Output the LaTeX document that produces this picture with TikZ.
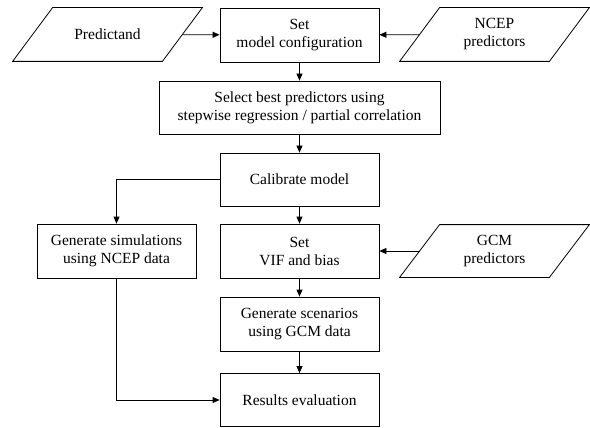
\documentclass[tikz,border=0pt]{standalone}
\usepackage{fontspec}
\setmainfont{Liberation Serif}
\usetikzlibrary{arrows.meta}
\begin{document}
\begin{tikzpicture}
          [x=1pt,y=-1pt,line width=.8pt,>={Triangle[length=7pt,width=6pt]},
           every node/.style={inner sep = 0pt, align = center, font=\fontsize{15.5}{18}\selectfont},
           box/.style={draw, rectangle, minimum width = 159pt, minimum height = 54pt},
           iobox/.style={rectangle, minimum width = 149pt, minimum height = 53pt}]
        \useasboundingbox (0,0) rectangle (590,428);
        \node[iobox] (pred) at (107.5,34.5) {Predictand};
        \node[box] (set) at (299.5,35) {Set \\ model configuration};
        \node[iobox] (ncep) at (494.5,34.5) {NCEP \\ predictors};
        \node[box, minimum width = 281pt, minimum height = 53pt] (sel) at (299.5,107.5) {Select best predictors using \\ stepwise regression / partial correlation};
        \node[box, minimum height = 53pt] (cal) at (299.5,179.5) {Calibrate model};
        \node[box] (sim) at (116.5,251) {Generate simulations \\ using NCEP data};
        \node[box] (vif) at (299.5,251) {Set \\ VIF and bias};
        \node[iobox, minimum height = 52pt] (gcm) at (494.5,251) {GCM \\ predictors};
        \node[box] (scen) at (299.5,324) {Generate scenarios \\ using GCM data};
        \node[box, minimum height = 53pt] (res) at (299.5,400) {Results evaluation};

      % slanted outlines of the data inputs
      \foreach \n in {pred, ncep, gcm}
        \draw ([xshift=-20pt]\n.south west) -- ([xshift=20pt]\n.north west)
          -- ([xshift=20pt]\n.north east) -- ([xshift=-20pt]\n.south east) -- cycle;

      \foreach \from/\to in {pred/set, ncep/set, set/sel, sel/cal, cal/vif, gcm/vif, vif/scen, scen/res}
        \draw[->] (\from) -- (\to);
      \draw[->] (cal.west) -| (sim.north);
      \draw[->] (sim.south) |- (res.west);
      \end{tikzpicture}
\end{document}
